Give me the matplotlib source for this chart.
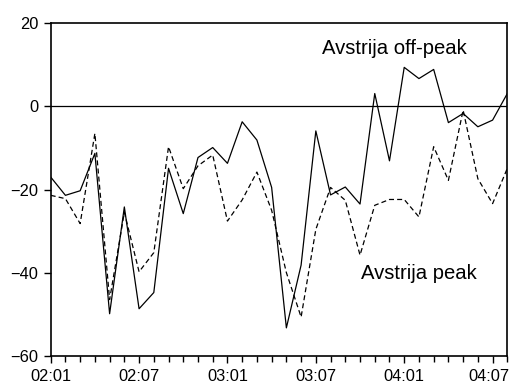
import numpy as np
import matplotlib
matplotlib.use("Agg")
import matplotlib.pyplot as plt
import matplotlib.transforms as mtrans

# monthly values, 2002:01 .. 2004:08
off_peak = [-17.0, -21.4, -20.3, -11.3, -49.9, -24.2, -48.7, -44.8,
            -14.9, -25.8, -12.3, -9.9, -13.7, -3.7, -8.1, -19.5,
            -53.3, -38.2, -5.9, -21.3, -19.4, -23.5, 3.1, -13.1,
            9.4, 6.7, 8.9, -3.9, -1.7, -4.9, -3.3, 3.1]
peak = [-21.4, -22.2, -28.2, -6.5, -46.5, -25.5, -39.8, -35.2,
        -9.7, -19.8, -14.3, -11.7, -27.6, -22.5, -15.8, -25.0,
        -40.0, -50.7, -29.6, -19.5, -22.6, -35.8, -23.8, -22.4,
        -22.4, -26.6, -9.7, -17.8, -0.9, -17.4, -23.4, -14.9]
tick_pos = [0, 6, 12, 18, 24, 30]
tick_lab = ["02:01", "02:07", "03:01", "03:07", "04:01", "04:07"]

plt.rcParams['font.family'] = ['Liberation Sans', 'DejaVu Sans']

fig = plt.figure(figsize=(5.11, 3.86), dpi=100)
ax = fig.add_axes([0.0992, 0.0785, 0.8936, 0.8611])

x = np.arange(len(off_peak))
ax.plot(x, off_peak, color='black', lw=0.9)
ax.plot(x, peak, color='black', lw=0.9, dashes=(4, 2.5))
ax.axhline(0, color='black', lw=0.9)

ax.set_xlim(0, len(off_peak) - 1)
ax.set_ylim(-60, 20)
ax.set_yticks([-60, -40, -20, 0, 20])
ax.set_xticks(x, minor=True)
ax.set_xticks(tick_pos)
ax.set_xticklabels(tick_lab)
ax.tick_params(axis='both', which='major', direction='out', length=5,
               width=1, labelsize=11.8, color='black')
ax.tick_params(axis='x', which='minor', direction='out', length=4.5, width=1)
ax.tick_params(axis='y', pad=4)
ax.tick_params(axis='x', pad=4.5)
for s in ax.spines.values():
    s.set_linewidth(1.2)

# last label would run past the figure edge
lab = ax.get_xticklabels()[-1]
lab.set_transform(lab.get_transform() + mtrans.ScaledTranslation(-4 / 100, 0, fig.dpi_scale_trans))

ax.text(18.45, 14.0, "Avstrija off-peak", fontsize=14.6, ha='left', va='center')
ax.text(21.1, -40.1, "Avstrija peak", fontsize=14.6, ha='left', va='center')

fig.savefig("out.png", dpi=100)
